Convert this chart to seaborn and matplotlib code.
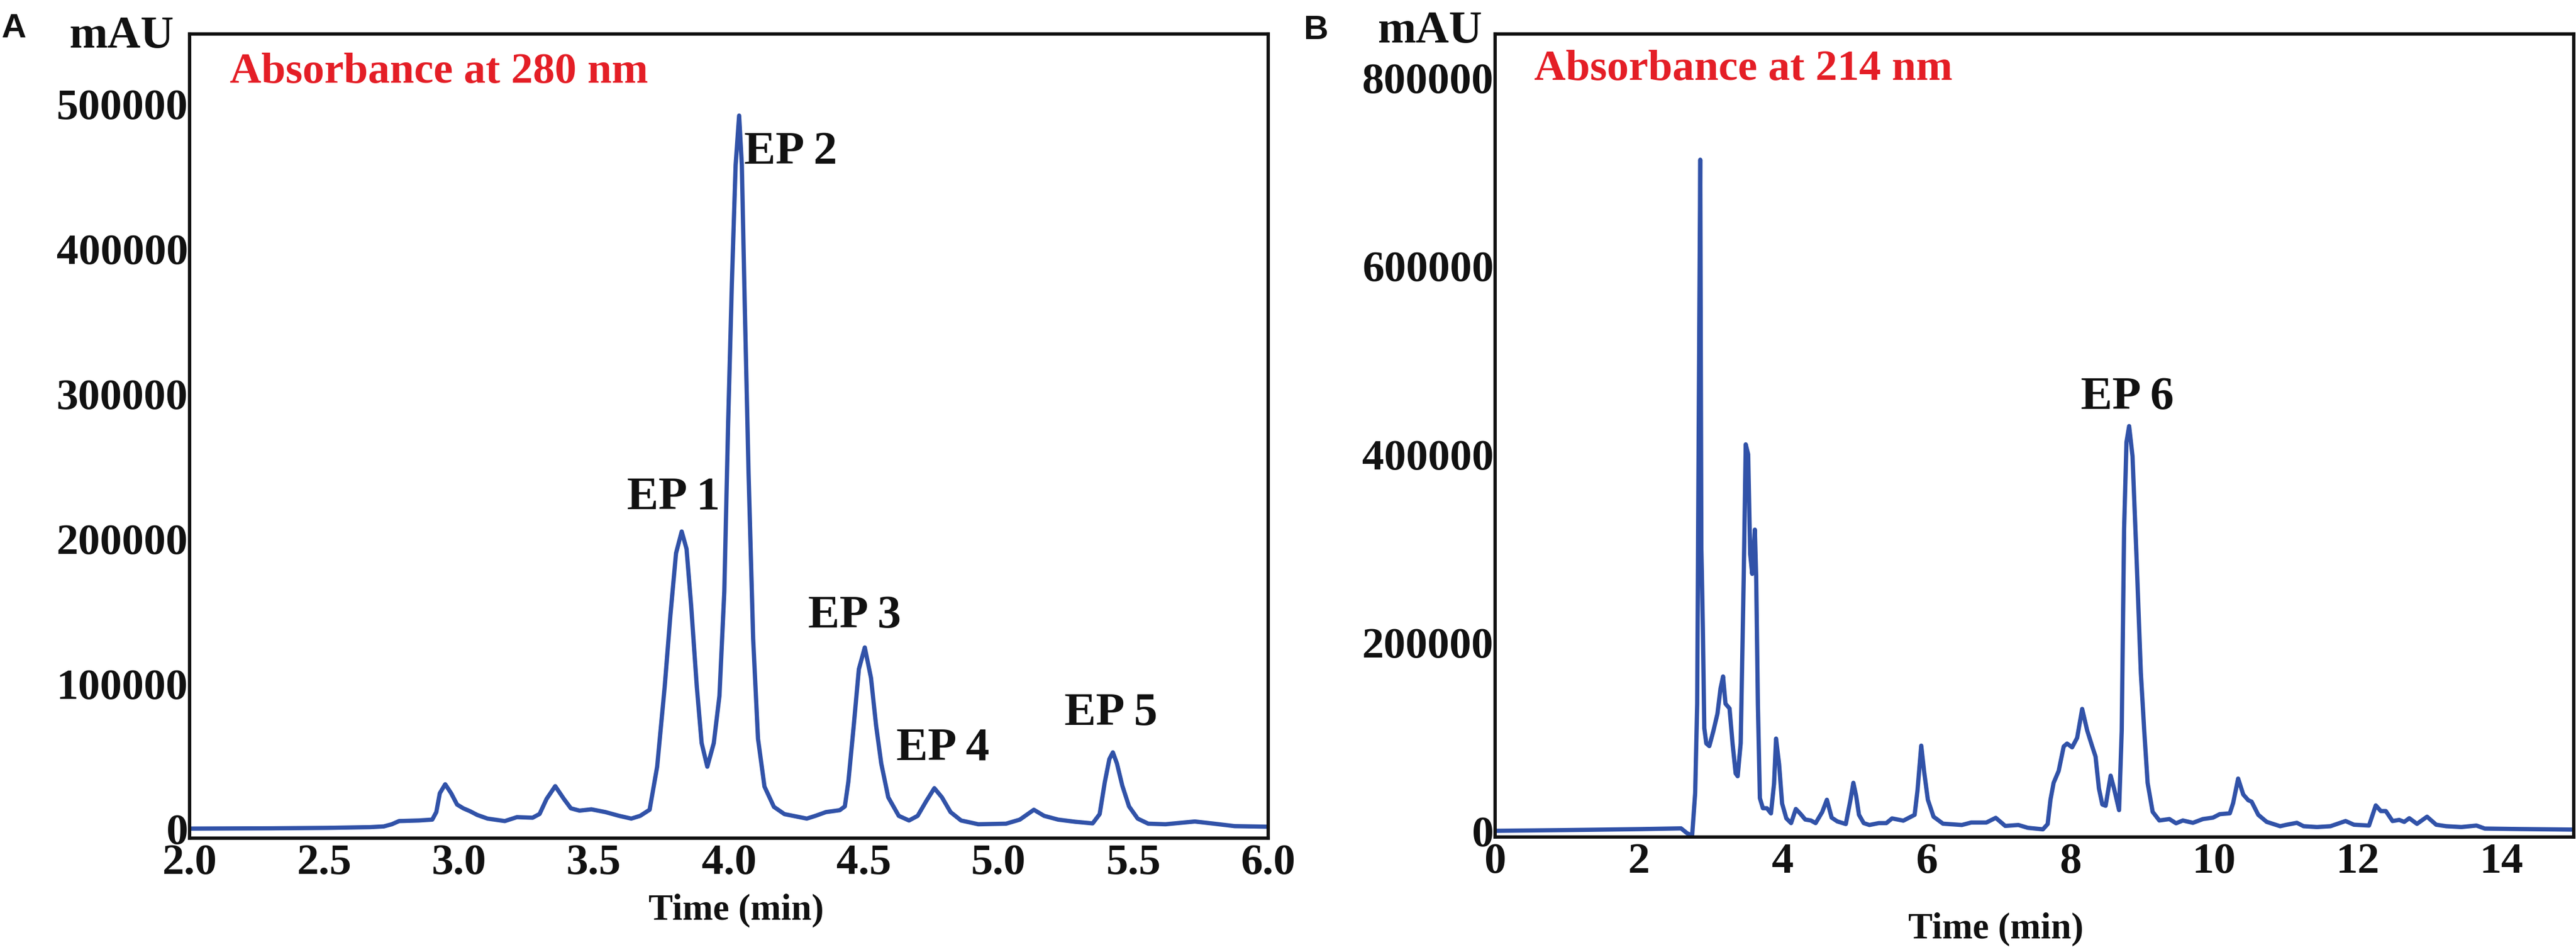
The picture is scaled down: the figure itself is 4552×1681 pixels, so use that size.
import matplotlib
matplotlib.use("Agg")
import matplotlib.pyplot as plt
import seaborn as sns
import numpy as np

# ---------------- data ----------------
# Panel A: absorbance at 280 nm
time_a = [2.00, 2.30, 2.51, 2.67, 2.72, 2.75, 2.777, 2.85, 2.90, 2.915, 2.928, 2.948, 2.97, 2.992,
          3.015, 3.04, 3.067, 3.105, 3.169, 3.214, 3.272, 3.298, 3.324, 3.356, 3.388, 3.414, 3.446,
          3.49, 3.542, 3.593, 3.638, 3.671, 3.706, 3.734, 3.762, 3.783, 3.804, 3.825, 3.843, 3.86,
          3.881, 3.899, 3.92, 3.944, 3.965, 3.983, 3.997, 4.011, 4.025, 4.038, 4.048, 4.059, 4.073,
          4.09, 4.108, 4.132, 4.167, 4.206, 4.257, 4.289, 4.321, 4.36, 4.411, 4.43, 4.443, 4.463,
          4.482, 4.504, 4.527, 4.546, 4.565, 4.591, 4.63, 4.668, 4.70, 4.732, 4.762, 4.79, 4.822,
          4.861, 4.925, 5.028, 5.079, 5.131, 5.169, 5.221, 5.285, 5.349, 5.375, 5.394, 5.411, 5.424,
          5.439, 5.459, 5.484, 5.516, 5.555, 5.619, 5.728, 5.799, 5.876, 6.00]
mau_a = [0, 200, 500, 1000, 1500, 3000, 5200, 5600, 6200, 11400, 24400, 30600, 24400, 16600,
         14000, 12000, 9400, 6900, 5200, 7900, 7500, 10100, 20500, 29300, 20500, 14000, 12400,
         13300, 11400, 8800, 6900, 8800, 13000, 42700, 98000, 147000, 190000, 205000, 193000, 154000,
         98000, 59000, 42700, 59000, 91600, 163600, 278000, 376000, 458000, 492000, 458000, 360000, 245000,
         131000, 62000, 29000, 15000, 10000, 8100, 6900, 8800, 11400, 12700, 15300, 32200, 71000,
         110000, 125000, 104000, 71000, 45000, 21600, 8800, 5600, 8800, 19000, 27900, 21600, 11400,
         5600, 3000, 3400, 6200, 13000, 8800, 6200, 4700, 3600, 10000, 32000, 48000, 52600,
         45000, 29600, 15300, 6900, 3400, 3000, 4900, 3400, 1700, 1300]

# Panel B: absorbance at 214 nm
time_b = [0.0, 1.0, 2.0, 2.586, 2.67, 2.74, 2.782, 2.81, 2.833, 2.853, 2.862, 2.868, 2.876, 2.889,
          2.909, 2.937, 2.979, 3.035, 3.092, 3.134, 3.17, 3.204, 3.26, 3.302, 3.345, 3.373, 3.415,
          3.457, 3.485, 3.519, 3.547, 3.575, 3.612, 3.631, 3.654, 3.682, 3.724, 3.78, 3.836, 3.879,
          3.907, 3.949, 3.991, 4.05, 4.116, 4.182, 4.247, 4.313, 4.391, 4.457, 4.549, 4.614, 4.68,
          4.759, 4.877, 4.942, 4.982, 5.021, 5.06, 5.126, 5.205, 5.336, 5.441, 5.52, 5.677, 5.834,
          5.874, 5.926, 5.966, 6.018, 6.097, 6.228, 6.49, 6.621, 6.831, 6.962, 7.094, 7.277, 7.408,
          7.618, 7.684, 7.723, 7.767, 7.837, 7.907, 7.954, 8.024, 8.094, 8.164, 8.234, 8.304, 8.35,
          8.397, 8.444, 8.49, 8.56, 8.607, 8.677, 8.714, 8.747, 8.78, 8.817, 8.864, 8.92, 8.98,
          9.027, 9.074, 9.144, 9.237, 9.377, 9.47, 9.564, 9.704, 9.843, 9.983, 10.077, 10.217,
          10.263, 10.333, 10.404, 10.474, 10.52, 10.613, 10.73, 10.917, 11.01, 11.15, 11.243, 11.43,
          11.617, 11.827, 11.943, 12.153, 12.247, 12.317, 12.387, 12.48, 12.573, 12.643, 12.713,
          12.82, 12.96, 13.087, 13.227, 13.437, 13.647, 13.763, 14.23, 15.0]
mau_b = [0, 800, 1800, 2600, -2600, -5000, 40000, 135000, 453000, 713000, 450000, 300000, 270000, 215000,
         109000, 92800, 90000, 106000, 124500, 151000, 164000, 135000, 130000, 92800, 61000, 58000, 93000,
         268000, 410600, 400000, 294000, 273000, 320000, 268000, 135000, 34700, 24000, 24000, 18500, 50000,
         98000, 71000, 29000, 13200, 8200, 23200, 18000, 12000, 11000, 8200, 20000, 33000, 14000,
         10000, 7200, 33000, 51000, 37000, 17000, 8200, 6200, 8200, 8200, 13200, 10800, 17000,
         43000, 90500, 63000, 33000, 15000, 7600, 6200, 8800, 8800, 13800, 5200, 6200, 3200,
         1600, 7200, 33000, 51000, 63600, 89600, 92700, 88700, 98800, 129500, 106500, 89600, 78900,
         45000, 28000, 26600, 58600, 45000, 22000, 106500, 321000, 413000, 430000, 398000, 290500, 167600,
         106500, 51000, 20200, 11000, 12500, 8000, 11000, 8500, 12500, 14000, 17700, 18600,
         29400, 55500, 38600, 32500, 31000, 17000, 9500, 4900, 6500, 8500, 4900, 4000,
         4900, 10400, 6500, 5600, 27000, 21000, 21000, 10400, 11600, 9500, 13400,
         7400, 15000, 6500, 4900, 4000, 5600, 2400, 1900, 1300]

xticks_a = [2.0, 2.5, 3.0, 3.5, 4.0, 4.5, 5.0, 5.5, 6.0]
yticks_a = [0, 100000, 200000, 300000, 400000, 500000]
xticks_b = [0, 2, 4, 6, 8, 10, 12, 14]
yticks_b = [0, 200000, 400000, 600000, 800000]

labels_a = ["EP 1", "EP 2", "EP 3", "EP 4", "EP 5"]
label_a_x = [3.622, 4.057, 4.294, 4.621, 5.244]
label_a_y = [220700, 459000, 138700, 47500, 71500]
labels_b = ["EP 6"]
label_b_x = [8.145]
label_b_y = [448500]

# ---------------- style ----------------
sns.set_theme(style="white")
plt.rcParams['font.family'] = ['Liberation Serif', 'DejaVu Serif']
plt.rcParams['font.weight'] = 'bold'

W, H = 4552, 1681
DPI = 300
fig = plt.figure(figsize=(W / DPI, H / DPI), dpi=DPI)
fig.patch.set_facecolor("white")

line_color = "#3152a8"
red = "#e41e26"
TICK_FS = 18.6
EP_FS = 20


def px(x, y):
    return x / W, 1 - y / H


def style_axes(ax):
    for s in ax.spines.values():
        s.set_visible(True)
        s.set_color("#111111")
        s.set_linewidth(1.4)
    ax.tick_params(axis="both", length=0, labelsize=TICK_FS, colors="#111111")
    ax.tick_params(axis="x", pad=2.5)
    ax.tick_params(axis="y", pad=0.6)
    for lab in ax.get_xticklabels() + ax.get_yticklabels():
        lab.set_fontweight("bold")
    ax.grid(False)
    ax.set_ylabel("")


# Panel A
axA = fig.add_axes([335 / W, 1 - 1480 / H, (2241 - 335) / W, (1480 - 60) / H])
sns.lineplot(x=time_a, y=mau_a, ax=axA, color=line_color, linewidth=1.8, estimator=None, sort=False)
axA.set_xlim(2.0, 6.0)
axA.set_ylim(-6600, 548300)
axA.set_xticks(xticks_a)
axA.set_xticklabels([f"{v:.1f}" for v in xticks_a])
axA.set_yticks(yticks_a)
axA.set_yticklabels([str(v) for v in yticks_a])
style_axes(axA)
axA.set_xlabel("Time (min)", fontsize=15.5, fontweight="bold", color="#111111")
axA.xaxis.set_label_coords(0.507, -0.069)
axA.xaxis.label.set_va("top")
for t, x, y in zip(labels_a, label_a_x, label_a_y):
    axA.text(x, y, t, ha="left", va="baseline", fontsize=EP_FS, fontweight="bold", color="#111111")

# Panel B
axB = fig.add_axes([2642 / W, 1 - 1478 / H, (4548 - 2642) / W, (1478 - 60) / H])
sns.lineplot(x=time_b, y=mau_b, ax=axB, color=line_color, linewidth=1.8, estimator=None, sort=False)
axB.set_xlim(0, 15)
axB.set_ylim(-6600, 846600)
axB.set_xticks(xticks_b)
axB.set_xticklabels([str(v) for v in xticks_b])
axB.set_yticks(yticks_b)
axB.set_yticklabels([str(v) for v in yticks_b])
style_axes(axB)
axB.set_xlabel("Time (min)", fontsize=15.5, fontweight="bold", color="#111111")
axB.xaxis.set_label_coords(0.464, -0.094)
axB.xaxis.label.set_va("top")
for t, x, y in zip(labels_b, label_b_x, label_b_y):
    axB.text(x, y, t, ha="left", va="baseline", fontsize=EP_FS, fontweight="bold", color="#111111")

# Figure-level texts
fig.text(*px(2, 66), "A", ha="left", va="baseline", fontsize=14.5, fontweight="bold",
         family=["Liberation Sans", "DejaVu Sans"], color="#111111")
fig.text(*px(2304, 69), "B", ha="left", va="baseline", fontsize=14.5, fontweight="bold",
         family=["Liberation Sans", "DejaVu Sans"], color="#111111")
fig.text(*px(308, 84), "mAU", ha="right", va="baseline", fontsize=19.5, fontweight="bold", color="#111111")
fig.text(*px(2620, 75), "mAU", ha="right", va="baseline", fontsize=19.5, fontweight="bold", color="#111111")
fig.text(*px(406, 146), "Absorbance at 280 nm", ha="left", va="baseline", fontsize=18.5,
         fontweight="bold", color=red)
fig.text(*px(2711, 141), "Absorbance at 214 nm", ha="left", va="baseline", fontsize=18.5,
         fontweight="bold", color=red)

fig.savefig("out.png", dpi=DPI, facecolor="white")
